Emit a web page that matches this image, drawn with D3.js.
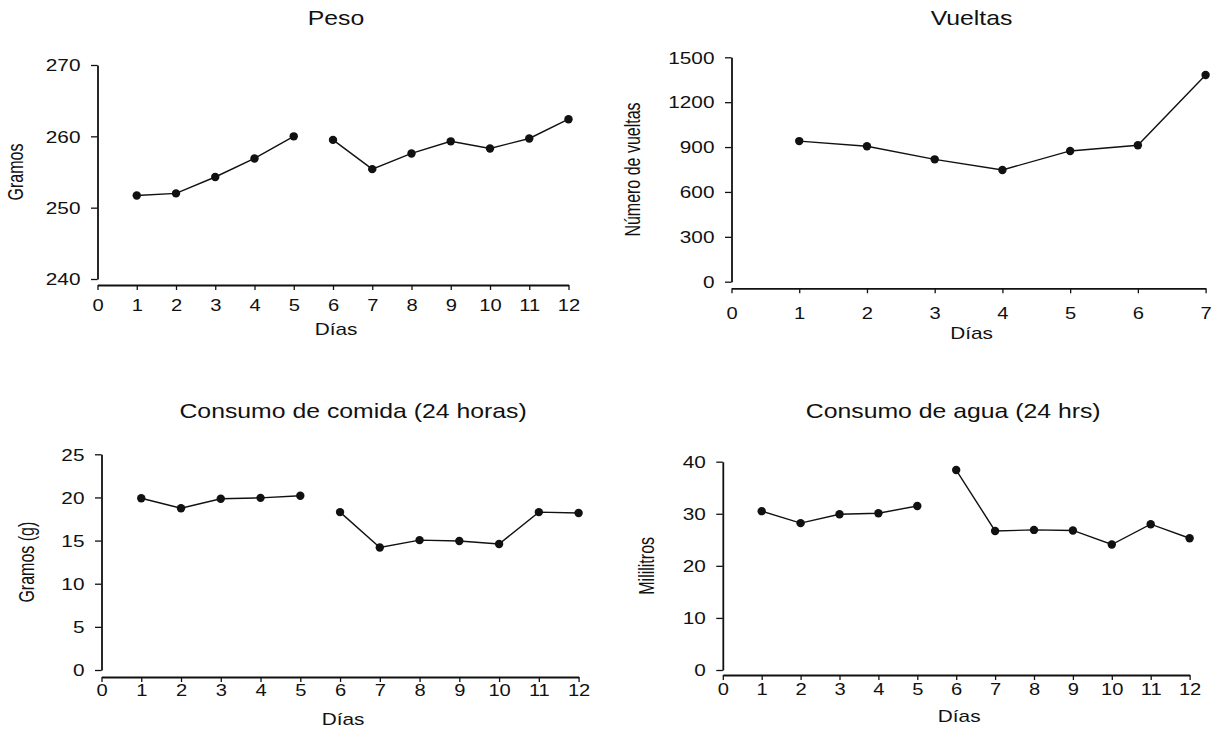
<!DOCTYPE html>
<html>
<head>
<meta charset="utf-8">
<script src="https://cdn.jsdelivr.net/npm/d3@7"></script>
<style>
  html, body { margin: 0; padding: 0; background: #fff; }
  svg { display: block; font-family: "Liberation Sans", Arial, sans-serif; }
</style>
</head>
<body>
<div id="chart"></div>
<script>
// values
const dias12 = [1, 2, 3, 4, 5, 6, 7, 8, 9, 10, 11, 12];
const dias7 = [1, 2, 3, 4, 5, 6, 7];

const peso = [251.7, 252.0, 254.3, 256.9, 260.0, 259.5, 255.4, 257.6, 259.3, 258.3, 259.7, 262.4];
const vueltas = [940, 905, 818, 747, 874, 912, 1382];
const comida = [19.9, 18.75, 19.85, 19.95, 20.2, 18.3, 14.2, 15.05, 14.95, 14.6, 18.3, 18.2];
const agua = [30.5, 28.2, 29.9, 30.1, 31.5, 38.4, 26.7, 26.9, 26.8, 24.1, 28.0, 25.3];

const pesoTicks = [240, 250, 260, 270];
const vueltasTicks = [0, 300, 600, 900, 1200, 1500];
const comidaTicks = [0, 5, 10, 15, 20, 25];
const aguaTicks = [0, 10, 20, 30, 40];

const xTicks12 = [0, 1, 2, 3, 4, 5, 6, 7, 8, 9, 10, 11, 12];
const xTicks7 = [0, 1, 2, 3, 4, 5, 6, 7];

const width = 1214, height = 730;
const svg = d3.select("#chart").append("svg")
    .attr("width", width)
    .attr("height", height);

const ink = "#111";

// brk = index where the line is cut (days 5 -> 6)
const panels = [
  {title: "Peso", ylab: "Gramos", days: dias12, vals: peso, yticks: pesoTicks, xticks: xTicks12, brk: 5,
   x0: 97.5, x1: 568.5, yTop: 65, yBot: 279, axY: 285, titleY: 25, titleDx: 3, xLabOff: 26, diasOff: 50, yLabX: 17},
  {title: "Vueltas", ylab: "Número de vueltas", days: dias7, vals: vueltas, yticks: vueltasTicks, xticks: xTicks7, brk: null,
   x0: 731.5, x1: 1205.6, yTop: 57.3, yBot: 281.7, axY: 288.3, titleY: 25, titleDx: 3, xLabOff: 31, diasOff: 51, yLabX: 634},
  {title: "Consumo de comida (24 horas)", ylab: "Gramos (g)", days: dias12, vals: comida, yticks: comidaTicks, xticks: xTicks12, brk: 5,
   x0: 101.5, x1: 578.6, yTop: 454.3, yBot: 670, axY: 677, titleY: 418, titleDx: 13, xLabOff: 19, diasOff: 48, yLabX: 28},
  {title: "Consumo de agua (24 hrs)", ylab: "Mililitros", days: dias12, vals: agua, yticks: aguaTicks, xticks: xTicks12, brk: 5,
   x0: 722.8, x1: 1189.6, yTop: 461.7, yBot: 670, axY: 675, titleY: 418, titleDx: -3, xLabOff: 20, diasOff: 47, yLabX: 648}
];

// the scan is stretched sideways, so texts get a horizontal scale
const sxText = 1.26;

function draw(p) {
    const g = svg.append("g");
    const x = d3.scaleLinear().domain(d3.extent(p.xticks)).range([p.x0, p.x1]);
    const y = d3.scaleLinear().domain(d3.extent(p.yticks)).range([p.yBot, p.yTop]);

    const ya = g.append("g")
        .attr("transform", `translate(${p.x0},0)`)
        .call(d3.axisLeft(y).tickValues(p.yticks).tickFormat(d3.format("d"))
            .tickSize(6.5).tickSizeOuter(0).tickPadding(0));
    // x axis sits a little below the y range
    const xa = g.append("g")
        .attr("transform", `translate(0,${p.axY})`)
        .call(d3.axisBottom(x).tickValues(p.xticks).tickFormat(d3.format("d"))
            .tickSize(5).tickSizeOuter(0).tickPadding(0));

    [ya, xa].forEach(a => {
        a.select(".domain").attr("stroke", ink).attr("stroke-width", 1.8);
        a.selectAll(".tick line").attr("stroke", ink).attr("stroke-width", 1.3);
        a.selectAll("text").attr("fill", ink).style("font-size", "16px")
            .attr("x", 0).attr("y", 0).attr("dy", null);
    });
    ya.selectAll("text")
        .attr("dy", "0.36em")
        .attr("transform", `translate(-17,0) scale(${sxText + 0.04},1)`);
    xa.selectAll("text")
        .attr("transform", `translate(0,${p.xLabOff}) scale(${sxText},1)`);

    const pts = p.days.map((d, i) => ({d: d, v: p.vals[i]}));
    const line = d3.line().x(q => x(q.d)).y(q => y(q.v));
    const segs = p.brk === null ? [pts] : [pts.slice(0, p.brk), pts.slice(p.brk)];
    segs.forEach(s => {
        g.append("path")
            .datum(s)
            .attr("d", line)
            .attr("fill", "none")
            .attr("stroke", ink)
            .attr("stroke-width", 1.4);
    });
    g.selectAll("circle")
        .data(pts)
        .join("circle")
        .attr("cx", q => x(q.d))
        .attr("cy", q => y(q.v))
        .attr("r", 4.2)
        .attr("fill", ink);

    const cx = (p.x0 + p.x1) / 2;
    g.append("text")
        .attr("transform", `translate(${cx + p.titleDx},${p.titleY}) scale(${sxText - 0.02},1)`)
        .attr("text-anchor", "middle")
        .style("font-size", "20px")
        .attr("fill", ink)
        .text(p.title);

    g.append("text")
        .attr("transform", `translate(${cx + 3},${p.axY + p.diasOff}) scale(1.3,1)`)
        .attr("text-anchor", "middle")
        .style("font-size", "16px")
        .attr("fill", ink)
        .text("Días");

    g.append("text")
        .attr("transform", `translate(${p.yLabX + 6},${(p.yTop + p.yBot) / 2}) scale(1.4,1) rotate(-90)`)
        .attr("text-anchor", "middle")
        .style("font-size", "16px")
        .attr("fill", ink)
        .text(p.ylab);
}

panels.forEach(draw);
</script>
</body>
</html>
